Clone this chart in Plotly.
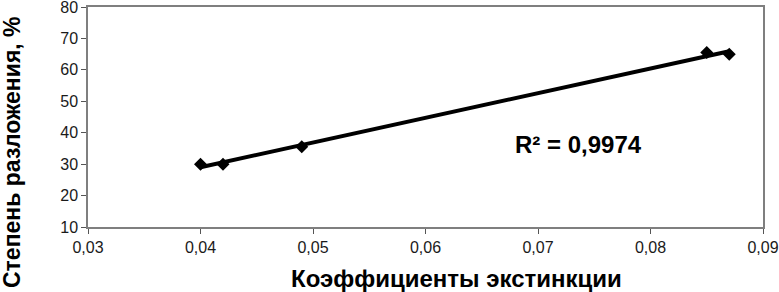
import numpy as np
import plotly.graph_objects as go

# Data
x_vals = [0.040, 0.042, 0.049, 0.085, 0.087]
y_vals = [30.0, 30.0, 35.5, 65.5, 65.0]
x_ticks = [0.03, 0.04, 0.05, 0.06, 0.07, 0.08, 0.09]
x_ticklabels = ["0,03", "0,04", "0,05", "0,06", "0,07", "0,08", "0,09"]
y_ticks = [10, 20, 30, 40, 50, 60, 70, 80]
r2_label = "R² = 0,9974"
x_title = "Коэффициенты экстинкции"
y_title = "Степень разложения, %"

slope, intercept = np.polyfit(x_vals, y_vals, 1)
trend_x = [min(x_vals), max(x_vals)]
trend_y = [slope * v + intercept for v in trend_x]

fig = go.Figure()
fig.add_trace(go.Scatter(x=trend_x, y=trend_y, mode="lines",
                         line=dict(color="black", width=4), showlegend=False))
fig.add_trace(go.Scatter(x=x_vals, y=y_vals, mode="markers",
                         marker=dict(symbol="diamond", size=10, color="black"),
                         showlegend=False))

font_family = "Liberation Sans, Arial, sans-serif"
pl, pr, pt, pb = 88, 763, 7, 227
W, H = 779, 292

def px2paper(px, py):
    return (px - pl) / (pr - pl), (pb - py) / (pb - pt)

ann = []
for text, px, py, size, angle in [
    (r2_label, 578, 145, 24, 0),
    (x_title, 456, 278, 24, 0),
    (y_title, 12, 152, 23, -90),
]:
    ax, ay = px2paper(px, py)
    ann.append(dict(text="<b>" + text + "</b>", x=ax, y=ay, xref="paper", yref="paper",
                    xanchor="center", yanchor="middle", showarrow=False, textangle=angle,
                    font=dict(size=size, color="black", family=font_family)))

axis_common = dict(showgrid=False, zeroline=False, showline=True, linecolor="#7f7f7f",
                   linewidth=1.5, mirror=True, ticks="outside", ticklen=5,
                   tickcolor="#555555", tickfont=dict(size=16, color="#1a1a1a"),
                   automargin=False, ticklabeloverflow="allow")

fig.update_layout(
    width=W, height=H,
    margin=dict(l=pl, r=W - pr, t=pt, b=H - pb),
    paper_bgcolor="white", plot_bgcolor="white",
    font=dict(family=font_family, color="#1a1a1a"),
    xaxis=dict(range=[0.03, 0.09], tickvals=x_ticks, ticktext=x_ticklabels, **axis_common),
    yaxis=dict(range=[10, 80], tickvals=y_ticks, **axis_common),
    annotations=ann,
)

fig.write_html("out.html", config={"displayModeBar": False},
               post_script="document.body.style.margin='0';")
